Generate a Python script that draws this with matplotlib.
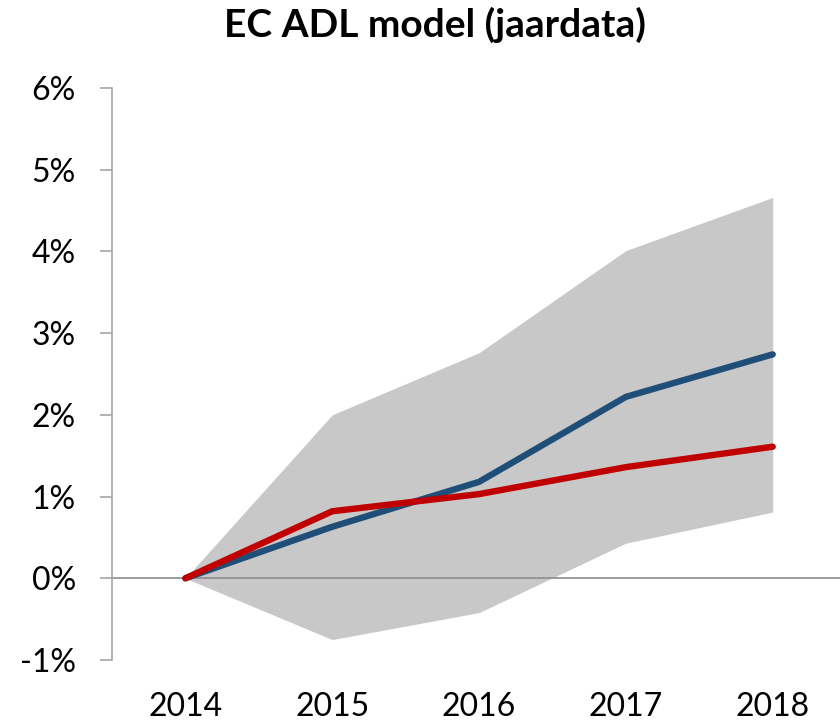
import numpy as np
import matplotlib.pyplot as plt

plt.rcParams['font.family'] = ['Lato', 'DejaVu Sans']

years = ['2014', '2015', '2016', '2017', '2018']
band_low = [0.0, -0.75, -0.42, 0.43, 0.81]
band_high = [0.0, 2.00, 2.76, 4.01, 4.66]
blue_line = [0.0, 0.63, 1.18, 2.22, 2.74]
red_line = [0.0, 0.82, 1.03, 1.36, 1.61]

x = np.arange(len(years))

fig = plt.figure(figsize=(8.4, 7.24), dpi=100)
ax = fig.add_axes([0.1333, 0.0884, 0.874, 0.7901])

ax.fill_between(x, band_low, band_high, color='#C8C8C8', lw=0, zorder=1)
ax.axhline(0, color='#8C8C8C', lw=1.2, zorder=2)
ax.plot(x, blue_line, color='#1F4E79', lw=4.6, solid_capstyle='round',
        solid_joinstyle='round', zorder=3)
ax.plot(x, red_line, color='#C00000', lw=4.6, solid_capstyle='round',
        solid_joinstyle='round', zorder=4)

ax.set_xlim(-0.5, 4.5)
ax.set_ylim(-1, 6)
ax.set_xticks(x)
ax.set_xticklabels(years)
ax.set_yticks(range(-1, 7))
ax.set_yticklabels([f'{v}%' for v in range(-1, 7)])

for s in ['top', 'right', 'bottom']:
    ax.spines[s].set_visible(False)
ax.spines['left'].set_color('#A6A6A6')
ax.spines['left'].set_linewidth(1.2)
ax.tick_params(axis='y', length=9, width=1.2, color='#A6A6A6', pad=17,
               labelsize=23, labelcolor='black')
ax.tick_params(axis='x', length=0, pad=23, labelsize=23, labelcolor='black')

fig.suptitle('EC ADL model (jaardata)', x=0.518, y=0.99, fontsize=28,
             fontweight='bold', va='top')

fig.savefig('out.png', dpi=100)
